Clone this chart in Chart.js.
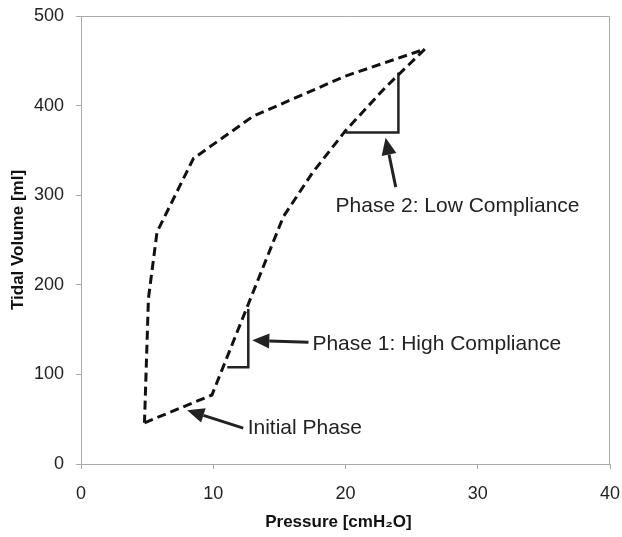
<!DOCTYPE html>
<html>
<head>
<meta charset="utf-8">
<script src="https://cdn.jsdelivr.net/npm/chart.js@4/dist/chart.umd.min.js"></script>
<style>
  html, body { margin: 0; padding: 0; background: #fff; }
  #wrap { width: 622px; height: 537px; }
</style>
</head>
<body>
<div id="wrap"><canvas id="myChart" width="622" height="537"></canvas></div>
<script>
// loop: inflation limb then deflation limb (pressure cmH2O, volume ml)
const inflationP = [4.8, 9.9, 15.3, 17.5, 20, 23, 26];
const inflationV = [46, 77, 276, 325, 372, 420, 463];
const deflationP = [26, 20, 13, 8.5, 5.75, 5.1, 4.8];
const deflationV = [463, 433, 388, 341, 259, 185, 46];

// slope triangles
const phase1TriP = [11.06, 12.65, 12.65];
const phase1TriV = [108, 108, 173];
const phase2TriP = [20.0, 24.0, 24.0];
const phase2TriV = [370, 370, 437];

// annotation labels and arrows (data units)
const labelText = ['Phase 2: Low Compliance', 'Phase 1: High Compliance', 'Initial Phase'];
const labelP = [19.25, 17.5, 12.6];
const labelV = [281, 127, 33.5];
const arrowFromP = [23.8, 17.2, 12.27];
const arrowFromV = [309, 136, 40];
const arrowToP = [23.03, 12.95, 8.03];
const arrowToV = [364, 138, 60];

const xTicks = [0, 10, 20, 30, 40];
const yTicks = [0, 100, 200, 300, 400, 500];

function toPoints(xs, ys) {
    return xs.map(function (x, i) { return { x: x, y: ys[i] }; });
}

const loopPts = toPoints(inflationP, inflationV).concat(toPoints(deflationP, deflationV).slice(1));

const annotate = {
    id: 'annotate',
    beforeDatasetsDraw: function (chart) {
        // grey box on top and right
        const a = chart.chartArea, c = chart.ctx;
        c.save();
        c.strokeStyle = '#aaa';
        c.lineWidth = 1;
        c.beginPath();
        c.moveTo(a.left, a.top + 0.5);
        c.lineTo(a.right - 0.5, a.top + 0.5);
        c.lineTo(a.right - 0.5, a.bottom);
        c.stroke();
        c.restore();
    },
    afterDatasetsDraw: function (chart) {
        const c = chart.ctx, xs = chart.scales.x, ys = chart.scales.y;
        c.save();
        c.fillStyle = '#222';
        c.strokeStyle = '#222';
        c.font = '21px "Liberation Sans", Arial, sans-serif';
        c.textBaseline = 'alphabetic';
        c.textAlign = 'left';
        labelText.forEach(function (t, i) {
            c.fillText(t, xs.getPixelForValue(labelP[i]), ys.getPixelForValue(labelV[i]));
        });
        arrowToP.forEach(function (p, i) {
            const x0 = xs.getPixelForValue(arrowFromP[i]), y0 = ys.getPixelForValue(arrowFromV[i]);
            const x1 = xs.getPixelForValue(p), y1 = ys.getPixelForValue(arrowToV[i]);
            const ang = Math.atan2(y1 - y0, x1 - x0);
            const hl = 17, hw = 7.5;
            const bx = x1 - hl * Math.cos(ang), by = y1 - hl * Math.sin(ang);
            c.lineWidth = 3;
            c.beginPath();
            c.moveTo(x0, y0);
            c.lineTo(bx, by);
            c.stroke();
            c.beginPath();
            c.moveTo(x1, y1);
            c.lineTo(bx + hw * Math.sin(ang), by - hw * Math.cos(ang));
            c.lineTo(bx - hw * Math.sin(ang), by + hw * Math.cos(ang));
            c.closePath();
            c.fill();
        });
        c.restore();
    }
};

const ctx = document.getElementById('myChart');
new Chart(ctx, {
    type: 'scatter',
    data: {
        datasets: [{
            data: loopPts,
            showLine: true,
            borderColor: '#111',
            borderWidth: 3,
            borderDash: [9, 5],
            pointRadius: 0
        }, {
            data: toPoints(phase1TriP, phase1TriV),
            showLine: true,
            borderColor: '#222',
            borderWidth: 2.5,
            pointRadius: 0
        }, {
            data: toPoints(phase2TriP, phase2TriV),
            showLine: true,
            borderColor: '#222',
            borderWidth: 2.5,
            pointRadius: 0
        }]
    },
    options: {
        responsive: false,
        animation: false,
        layout: { padding: { top: 16, right: 12, left: 0, bottom: 0 } },
        plugins: { legend: { display: false }, tooltip: { enabled: false } },
        scales: {
            x: {
                min: 0, max: 40,
                afterBuildTicks: function (s) { s.ticks = xTicks.map(function (v) { return { value: v }; }); },
                afterFit: function (s) { s.height = 73; s.paddingLeft = 0; s.paddingRight = 0; },
                border: { color: '#aaa' },
                grid: { drawOnChartArea: false, tickLength: 5, color: '#aaa' },
                ticks: { padding: 14, color: '#222', font: { family: 'Liberation Sans', size: 18 } },
                title: {
                    display: true, text: 'Pressure [cmH\u2082O]   ', color: '#111',
                    font: { family: 'Liberation Sans', size: 17, weight: 'bold' }, padding: { top: 0 }
                }
            },
            y: {
                min: 0, max: 500,
                afterBuildTicks: function (s) { s.ticks = yTicks.map(function (v) { return { value: v }; }); },
                afterFit: function (s) { s.width = 81; s.paddingTop = 0; s.paddingBottom = 0; },
                border: { color: '#aaa' },
                grid: { drawOnChartArea: false, tickLength: 5, color: '#aaa' },
                ticks: { padding: 12, color: '#222', font: { family: 'Liberation Sans', size: 18 } },
                title: {
                    display: true, text: 'Tidal Volume [ml]', color: '#111',
                    font: { family: 'Liberation Sans', size: 17, weight: 'bold' }, padding: { top: 8 }
                }
            }
        }
    },
    plugins: [annotate]
});
</script>
</body>
</html>
